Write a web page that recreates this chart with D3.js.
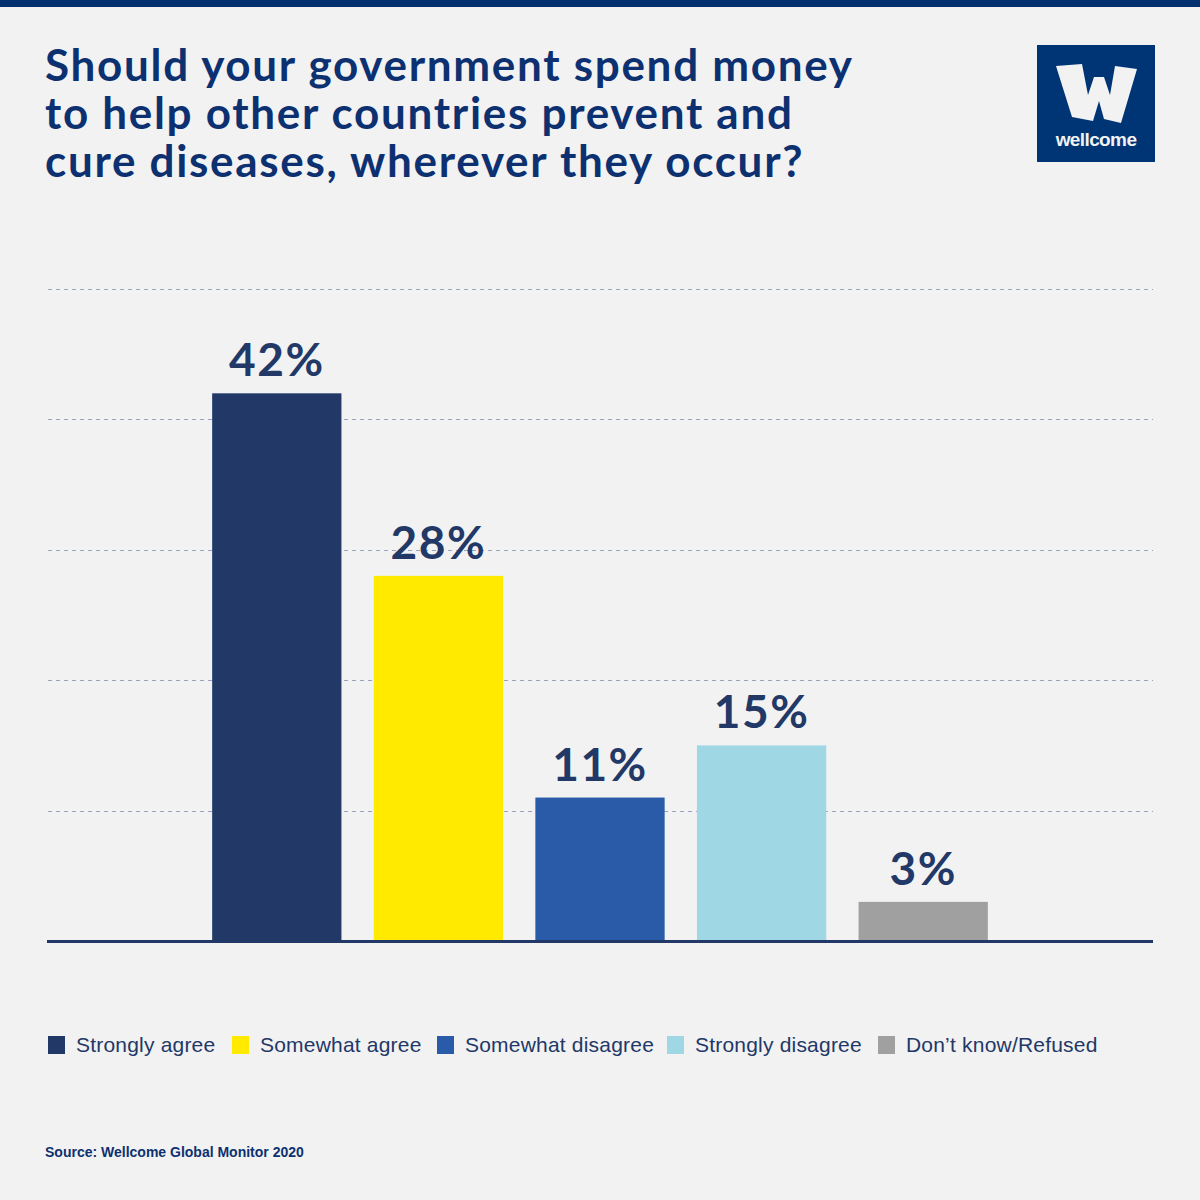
<!DOCTYPE html>
<html>
<head>
<meta charset="utf-8">
<script src="https://cdn.jsdelivr.net/npm/d3@7"></script>
<style>
  html, body { margin: 0; padding: 0; background: #f2f2f2; }
  svg { display: block; }
</style>
</head>
<body>
<svg id="chart" width="1200" height="1200"></svg>
<script>
// Data
var categories = ["Strongly agree", "Somewhat agree", "Somewhat disagree", "Strongly disagree", "Don\u2019t know/Refused"];
var values = [42, 28, 11, 15, 3];
var colors = ["#223867", "#ffea00", "#2a5ba8", "#9fd7e5", "#a0a0a0"];
var gridTicks = [10, 20, 30, 40, 50];
var titleLines = ["Should your government spend money", "to help other countries prevent and", "cure diseases, wherever they occur?"];

var navy = "#0d3170";
var ink = "#223867";

var svg = d3.select("#chart");

// Background + top strip
svg.append("rect").attr("width", 1200).attr("height", 1200).attr("fill", "#f2f2f2");
svg.append("rect").attr("width", 1200).attr("height", 7).attr("fill", "#04306f");

// Title
svg.append("g")
    .attr("id", "title")
    .selectAll("text")
    .data(titleLines)
    .enter().append("text")
    .text(d => d)
    .attr("x", 45)
    .attr("y", (d, i) => 81 + i * 48)
    .attr("font-family", "Lato, 'Open Sans', sans-serif")
    .attr("font-weight", 700)
    .attr("font-size", 44)
    .attr("letter-spacing", 1.7)
    .attr("fill", navy);

// Logo
var logo = svg.append("g").attr("id", "logo").attr("transform", "translate(1037,45)");
logo.append("rect").attr("width", 118).attr("height", 117).attr("fill", "#003575");
logo.append("path")
    .attr("d", "M19,21 L45,19 L51,50 L57,32 L67,32 L73,50 L78,21 L100,24 L84,78 L67,74 L62,56 L56,76 L35,72 Z")
    .attr("fill", "#f2f2f2");
logo.append("text")
    .text("wellcome")
    .attr("x", 59)
    .attr("y", 101)
    .attr("text-anchor", "middle")
    .attr("font-family", "'Liberation Sans', Arial, sans-serif")
    .attr("font-weight", 700)
    .attr("font-size", 19)
    .attr("letter-spacing", -0.6)
    .attr("fill", "#f2f2f2");

// Scales
var x = d3.scaleBand()
    .domain(categories)
    .range([196, 1004])
    .paddingInner(0.2)
    .paddingOuter(0.1);

var y = d3.scaleLinear()
    .domain([0, 50])
    .range([941, 289]);

// Gridlines
svg.append("g")
    .attr("id", "grid")
    .selectAll("line")
    .data(gridTicks)
    .enter().append("line")
    .attr("x1", 48)
    .attr("x2", 1153)
    .attr("y1", d => Math.round(y(d)) + 0.5)
    .attr("y2", d => Math.round(y(d)) + 0.5)
    .attr("stroke", "#9aa3bf")
    .attr("stroke-width", 1)
    .attr("stroke-dasharray", "4,4");

// Bars
var bars = svg.append("g").attr("id", "bars");
bars.selectAll("rect")
    .data(values)
    .enter().append("rect")
    .attr("x", (d, i) => x(categories[i]))
    .attr("y", d => y(d))
    .attr("width", x.bandwidth())
    .attr("height", d => y(0) - y(d))
    .attr("fill", (d, i) => colors[i]);

// Value labels
bars.selectAll("text")
    .data(values)
    .enter().append("text")
    .text(d => d + "%")
    .attr("x", (d, i) => x(categories[i]) + x.bandwidth() / 2)
    .attr("y", d => y(d) - 17)
    .attr("text-anchor", "middle")
    .attr("font-family", "Lato, 'Open Sans', sans-serif")
    .attr("font-weight", 700)
    .attr("font-size", 46)
    .attr("letter-spacing", 1.5)
    .attr("fill", ink);

// Baseline
svg.append("line")
    .attr("x1", 47)
    .attr("x2", 1153)
    .attr("y1", y(0) + 0.5)
    .attr("y2", y(0) + 0.5)
    .attr("stroke", ink)
    .attr("stroke-width", 3);

// Legend
var legendX = [48, 232, 437, 667, 878];
var legend = svg.append("g").attr("id", "legend");
var item = legend.selectAll("g")
    .data(categories)
    .enter().append("g")
    .attr("transform", (d, i) => `translate(${legendX[i]}, 1036)`);
item.append("rect")
    .attr("width", 17)
    .attr("height", 18)
    .attr("fill", (d, i) => colors[i]);
item.append("text")
    .text(d => d)
    .attr("x", 28)
    .attr("y", 16)
    .attr("font-family", "'Liberation Sans', Arial, sans-serif")
    .attr("font-size", 21)
    .attr("letter-spacing", 0.2)
    .attr("fill", ink);

// Source
svg.append("text")
    .text("Source: Wellcome Global Monitor 2020")
    .attr("x", 45)
    .attr("y", 1157)
    .attr("font-family", "'Liberation Sans', Arial, sans-serif")
    .attr("font-weight", 700)
    .attr("font-size", 14)
    .attr("fill", navy);
</script>
</body>
</html>
